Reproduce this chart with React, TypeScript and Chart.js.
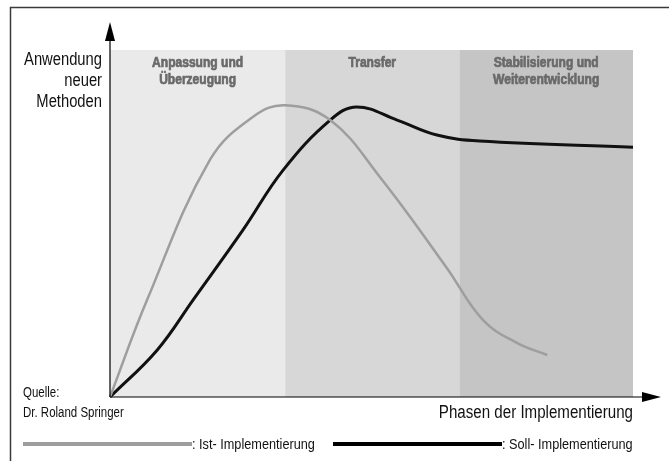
import React, { useEffect, useRef } from "react";
import { Chart, registerables } from "chart.js";

Chart.register(...registerables);

// Phase names (bands) and their bounds on the x scale (0..100)
const phaseLabels: string[][] = [
  ["Anpassung und", "Überzeugung"],
  ["Transfer"],
  ["Stabilisierung und", "Weiterentwicklung"],
];
const phaseBounds = [0, 33.5, 66.8, 100];
const phaseColors = ["#eaeaea", "#d7d7d7", "#c5c5c5"];

// Ist-Implementierung (grey curve)
const xIst = [0, 7.1, 19.1, 27.3, 33.5, 42.1, 51.6, 64.4, 71.3, 77.8, 83.6];
const yIst = [0, 28.0, 68.3, 80.7, 84.1, 79.8, 63.4, 37.2, 22.2, 15.6, 12.1];

// Soll-Implementierung (black curve)
const xSoll = [0, 9.0, 15.9, 25.4, 33.1, 42.1, 47.2, 54.9, 62.5, 70.7, 100];
const ySoll = [0, 13.5, 28.0, 48.1, 65.4, 79.8, 83.6, 79.8, 75.5, 73.8, 72.0];

const yAxisTitle = ["Anwendung", "neuer", "Methoden"];
const xAxisTitle = "Phasen der Implementierung";
const sourceLines = ["Quelle:", "Dr. Roland Springer"];
const legendIst = ": Ist- Implementierung";
const legendSoll = ": Soll- Implementierung";

const FONT = "'Liberation Sans', Arial, sans-serif";

function txt(
  ctx: CanvasRenderingContext2D,
  s: string,
  x: number,
  y: number,
  size: number,
  align: CanvasTextAlign,
  color: string,
  bold = false,
  sx = 0.82
) {
  ctx.save();
  ctx.translate(x, y);
  ctx.scale(sx, 1);
  ctx.font = `${bold ? "bold " : ""}${size}px ${FONT}`;
  ctx.textAlign = align;
  ctx.textBaseline = "alphabetic";
  ctx.fillStyle = color;
  ctx.fillText(s, 0, 0);
  if (bold) {
    ctx.strokeStyle = color;
    ctx.lineWidth = 0.7;
    ctx.strokeText(s, 0, 0);
  }
  ctx.restore();
}

const decorPlugin = {
  id: "decor",
  beforeDatasetsDraw(chart: any) {
    const { ctx, chartArea, scales } = chart;
    const xs = scales.x;
    ctx.save();
    for (let i = 0; i < phaseColors.length; i++) {
      const x0 = xs.getPixelForValue(phaseBounds[i]);
      const x1 = xs.getPixelForValue(phaseBounds[i + 1]);
      ctx.fillStyle = phaseColors[i];
      ctx.fillRect(x0, chartArea.top, x1 - x0, chartArea.bottom - chartArea.top);
      const cx = (x0 + x1) / 2;
      phaseLabels[i].forEach((t, j) => {
        txt(ctx, t, cx, chartArea.top + 17 + j * 17, 14, "center", "#6a6a6a", true, 0.86);
      });
    }
    ctx.restore();
  },
  afterDatasetsDraw(chart: any) {
    const { ctx, chartArea, width, height } = chart;
    const { left, right, top, bottom } = chartArea;
    ctx.save();
    // outer frame (top and left)
    ctx.strokeStyle = "#3a3a3a";
    ctx.lineWidth = 1.5;
    ctx.beginPath();
    ctx.moveTo(width, 7.5);
    ctx.lineTo(10.5, 7.5);
    ctx.lineTo(10.5, height);
    ctx.stroke();

    // axes
    ctx.strokeStyle = "#000";
    ctx.lineWidth = 1.2;
    ctx.beginPath();
    ctx.moveTo(left, bottom);
    ctx.lineTo(left, top - 12);
    ctx.moveTo(left, bottom);
    ctx.lineTo(right + 12, bottom);
    ctx.stroke();
    ctx.fillStyle = "#000";
    ctx.beginPath();
    ctx.moveTo(left, top - 28);
    ctx.lineTo(left - 5, top - 9);
    ctx.lineTo(left + 5, top - 9);
    ctx.closePath();
    ctx.fill();
    ctx.beginPath();
    ctx.moveTo(right + 28, bottom);
    ctx.lineTo(right + 9, bottom - 5);
    ctx.lineTo(right + 9, bottom + 5);
    ctx.closePath();
    ctx.fill();

    // axis titles
    yAxisTitle.forEach((t, i) => txt(ctx, t, left - 8, top + 15 + i * 21, 18, "right", "#111"));
    txt(ctx, xAxisTitle, right, bottom + 21, 18, "right", "#111", false, 0.84);

    // source
    txt(ctx, sourceLines[0], 23, bottom, 14, "left", "#111");
    txt(ctx, sourceLines[1], 23, bottom + 20, 14, "left", "#111");

    // legend
    const ly = bottom + 47;
    ctx.lineWidth = 4;
    ctx.strokeStyle = "#9d9d9d";
    ctx.beginPath();
    ctx.moveTo(23, ly);
    ctx.lineTo(192, ly);
    ctx.stroke();
    ctx.strokeStyle = "#000";
    ctx.beginPath();
    ctx.moveTo(333, ly);
    ctx.lineTo(502, ly);
    ctx.stroke();
    txt(ctx, legendIst, 192, ly + 5, 15.5, "left", "#111");
    txt(ctx, legendSoll, 502, ly + 5, 15.5, "left", "#111");
    ctx.restore();
  },
};

export default function App() {
  const ref = useRef<HTMLCanvasElement | null>(null);
  useEffect(() => {
    document.body.style.margin = "0";
    const canvas = ref.current;
    if (!canvas) return;
    const chart = new Chart(canvas, {
      type: "line",
      data: {
        datasets: [
          {
            label: "Ist- Implementierung",
            data: xIst.map((x, i) => ({ x, y: yIst[i] })),
            borderColor: "#9e9e9e",
            borderWidth: 2.5,
            pointRadius: 0,
            tension: 0.4,
            fill: false,
            clip: false as any,
          },
          {
            label: "Soll- Implementierung",
            data: xSoll.map((x, i) => ({ x, y: ySoll[i] })),
            borderColor: "#111",
            borderWidth: 3,
            pointRadius: 0,
            tension: 0.4,
            fill: false,
            clip: false as any,
          },
        ],
      },
      options: {
        animation: false,
        responsive: false,
        events: [],
        layout: { padding: { left: 110, top: 50, right: 36, bottom: 64 } },
        scales: {
          x: { type: "linear", min: 0, max: 100, display: false },
          y: { type: "linear", min: 0, max: 100, display: false },
        },
        plugins: { legend: { display: false }, tooltip: { enabled: false } },
      },
      plugins: [decorPlugin],
    });
    return () => chart.destroy();
  }, []);
  return (
    <div style={{ position: "absolute", left: 0, top: 0, width: 669, height: 461, background: "#fff" }}>
      <canvas ref={ref} width={669} height={461} style={{ width: 669, height: 461 }} />
    </div>
  );
}
